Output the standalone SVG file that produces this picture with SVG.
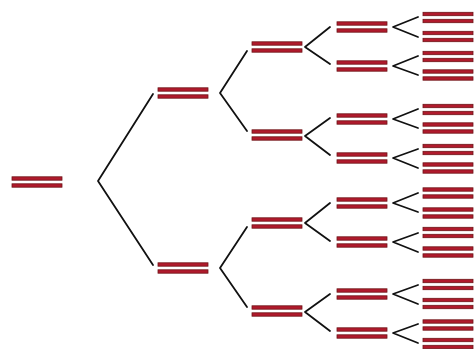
<svg xmlns="http://www.w3.org/2000/svg" xmlns:xlink="http://www.w3.org/1999/xlink" width="475" height="349" viewBox="0 0 475 349">
<style>
.bar{fill:#b01a2c;stroke:#6e1418;stroke-width:0.8}
.con{fill:none;stroke:#111;stroke-width:1.8;stroke-linecap:round;stroke-linejoin:round}
</style>
<defs>
<g id="dbl">
<rect class="bar" x="0" y="-5.2" width="50" height="3.4"/>
<rect class="bar" x="0" y="1.8" width="50" height="3.4"/>
</g>
</defs>
<rect width="475" height="349" fill="#fff"/>
<g id="connectors">
<path class="con" d="M153,94 L98,181 L153,265"/>
<path class="con" d="M247,51 L220,93 L247,131"/>
<path class="con" d="M247,227 L220,268 L247,307"/>
<path class="con" d="M330,27 L305,47 L330,64"/>
<path class="con" d="M330,118 L305,136 L330,155"/>
<path class="con" d="M330,203 L305,223 L330,241"/>
<path class="con" d="M330,294 L305,312 L330,331"/>
<path class="con" d="M418,17 L393,27 L418,37"/>
<path class="con" d="M418,56 L393,66 L418,75"/>
<path class="con" d="M418,109 L393,119 L418,128"/>
<path class="con" d="M418,149 L393,158 L418,168"/>
<path class="con" d="M418,193 L393,203 L418,212"/>
<path class="con" d="M418,233 L393,242 L418,252"/>
<path class="con" d="M418,285 L393,294 L418,304"/>
<path class="con" d="M418,324 L393,333 L418,343"/>
</g>
<g id="root"><use xlink:href="#dbl" x="12" y="182"/></g>
<g id="n1a"><use xlink:href="#dbl" x="158" y="93"/></g>
<g id="n1b"><use xlink:href="#dbl" x="158" y="268"/></g>
<g id="n2a"><use xlink:href="#dbl" x="252" y="47"/></g>
<g id="n2b"><use xlink:href="#dbl" x="252" y="135"/></g>
<g id="n2c"><use xlink:href="#dbl" x="252" y="223"/></g>
<g id="n2d"><use xlink:href="#dbl" x="252" y="311"/></g>
<g id="n3a"><use xlink:href="#dbl" x="337" y="27"/></g>
<g id="n3b"><use xlink:href="#dbl" x="337" y="66"/></g>
<g id="n3c"><use xlink:href="#dbl" x="337" y="119"/></g>
<g id="n3d"><use xlink:href="#dbl" x="337" y="158"/></g>
<g id="n3e"><use xlink:href="#dbl" x="337" y="203"/></g>
<g id="n3f"><use xlink:href="#dbl" x="337" y="242"/></g>
<g id="n3g"><use xlink:href="#dbl" x="337" y="294"/></g>
<g id="n3h"><use xlink:href="#dbl" x="337" y="333"/></g>
<g id="leaf1"><use xlink:href="#dbl" x="423" y="17.5"/></g>
<g id="leaf2"><use xlink:href="#dbl" x="423" y="36.5"/></g>
<g id="leaf3"><use xlink:href="#dbl" x="423" y="56.5"/></g>
<g id="leaf4"><use xlink:href="#dbl" x="423" y="75"/></g>
<g id="leaf5"><use xlink:href="#dbl" x="423" y="109.5"/></g>
<g id="leaf6"><use xlink:href="#dbl" x="423" y="128"/></g>
<g id="leaf7"><use xlink:href="#dbl" x="423" y="149.5"/></g>
<g id="leaf8"><use xlink:href="#dbl" x="423" y="168"/></g>
<g id="leaf9"><use xlink:href="#dbl" x="423" y="193"/></g>
<g id="leaf10"><use xlink:href="#dbl" x="423" y="213"/></g>
<g id="leaf11"><use xlink:href="#dbl" x="423" y="232.5"/></g>
<g id="leaf12"><use xlink:href="#dbl" x="423" y="252"/></g>
<g id="leaf13"><use xlink:href="#dbl" x="423" y="284.5"/></g>
<g id="leaf14"><use xlink:href="#dbl" x="423" y="303.5"/></g>
<g id="leaf15"><use xlink:href="#dbl" x="423" y="325"/></g>
<g id="leaf16"><use xlink:href="#dbl" x="423" y="343.5"/></g>
</svg>
